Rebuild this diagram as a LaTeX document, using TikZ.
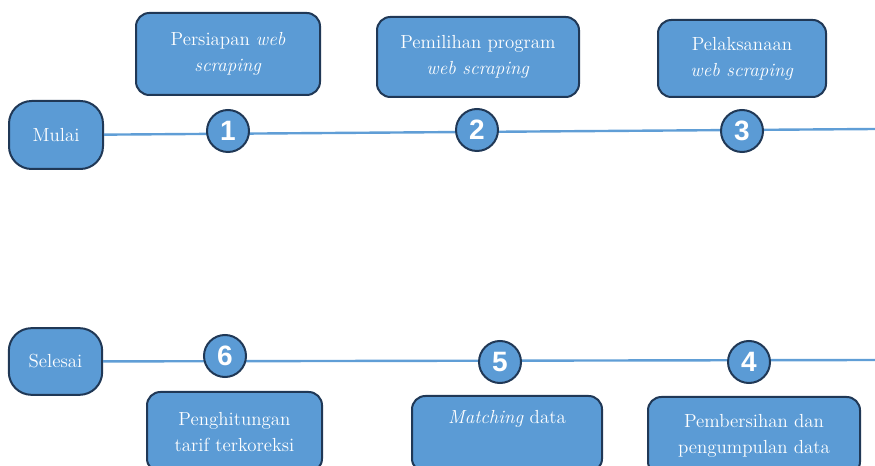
\documentclass[tikz,border=0pt]{standalone}
\usepackage{fontspec}
\newfontfamily\numfont{Liberation Sans}
\definecolor{boxblue}{RGB}{91,155,213}
\definecolor{navy}{RGB}{32,56,86}
\definecolor{linblue}{RGB}{96,158,214}
\begin{document}
\begin{tikzpicture}[x=0.75pt,y=-0.75pt,
  stepbox/.style={draw=navy,line width=1.5pt,fill=boxblue,rounded corners=10pt,inner sep=0pt,align=center,text=white,font=\fontsize{14.2}{19.5}\selectfont},
  endbox/.style={stepbox,rounded corners=17pt},
  num/.style={circle,draw=navy,line width=1.5pt,fill=boxblue,minimum size=31.5pt,inner sep=0pt,text=white,font=\numfont\bfseries\fontsize{21}{21}\selectfont}]
\clip(0,0)rectangle(875,466);
% start and end
\node[endbox,minimum width=70.5pt,minimum height=51pt](mulai)at(56,135){Mulai};
\node[endbox,minimum width=70pt,minimum height=50pt](selesai)at(55.5,361.5){Selesai};
\coordinate(endtop)at(875,129);
\coordinate(endbot)at(875,360);
\draw[linblue,line width=1.8pt](mulai)--(endtop) (selesai)--(endbot);
% steps
\foreach \n/\x/\y in {1/228/131,2/477/130,3/742/131,4/749/362,5/500/362,6/225/356}{\node[num](c\n)at(\x,\y){\n};}
\node[stepbox,minimum width=138pt,minimum height=61.5pt](s1)at(228,54){Persiapan \textit{web}\\\textit{scraping}};
\node[stepbox,minimum width=151.5pt,minimum height=60pt](s2)at(478,57){Pemilihan program\\\textit{web scraping}};
\node[stepbox,minimum width=126pt,minimum height=57.75pt](s3)at(742,58.5){Pelaksanaan\\\textit{web scraping}};
\node[stepbox,minimum width=159pt,minimum height=58.5pt](s4)at(754,436){Pembersihan dan\\pengumpulan data};
\node[stepbox,minimum width=142.5pt,minimum height=57pt](s5)at(507,434){\textit{Matching} data\\\strut};
\node[stepbox,minimum width=131.25pt,minimum height=60pt](s6)at(234.5,432){Penghitungan\\tarif terkoreksi};
\end{tikzpicture}
\end{document}
